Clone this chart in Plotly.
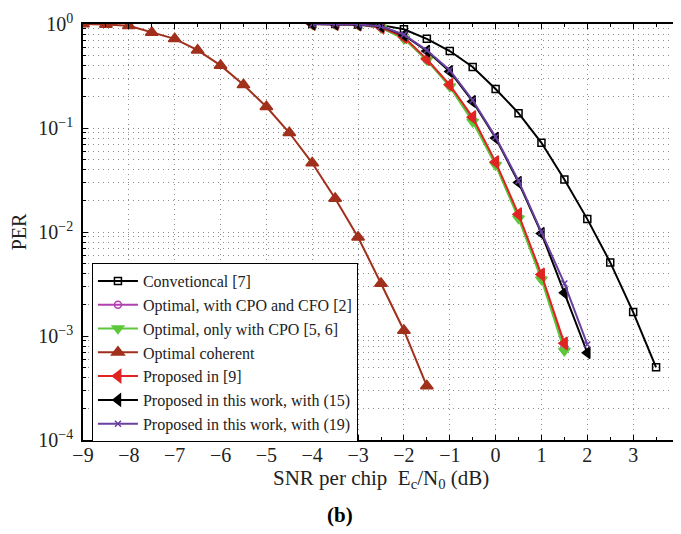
import plotly.graph_objects as go

# ---- data ----
x_conv = [-4, -3.5, -3, -2.5, -2, -1.5, -1, -0.5, 0, 0.5, 1, 1.5, 2, 2.5, 3, 3.5]
per_conv = [1.0, 1.0, 0.99, 0.975, 0.89, 0.72, 0.55, 0.386, 0.237, 0.139, 0.072, 0.032, 0.0133, 0.0051, 0.0017, 0.0005]

x_coh = [-9, -8.5, -8, -7.5, -7, -6.5, -6, -5.5, -5, -4.5, -4, -3.5, -3, -2.5, -2, -1.5]
per_coh = [1.0, 0.99, 0.96, 0.83, 0.72, 0.56, 0.40, 0.26, 0.16, 0.09, 0.046, 0.021, 0.0089, 0.0032, 0.00113, 0.00033]

x_opt = [-4, -3.5, -3, -2.5, -2, -1.5, -1, -0.5, 0, 0.5, 1, 1.5]
per_cfo = [1.0, 1.0, 0.99, 0.92, 0.73, 0.45, 0.255, 0.12, 0.045, 0.014, 0.0036, 0.00078]
per_cpo = [1.0, 1.0, 0.99, 0.92, 0.72, 0.45, 0.25, 0.115, 0.044, 0.0135, 0.0035, 0.00072]
per_p9 = [1.0, 1.0, 0.99, 0.93, 0.75, 0.46, 0.26, 0.127, 0.047, 0.0148, 0.0039, 0.00085]

x_prop = [-4, -3.5, -3, -2.5, -2, -1.5, -1, -0.5, 0, 0.5, 1, 1.5, 2]
per_15 = [1.0, 1.0, 0.99, 0.95, 0.78, 0.55, 0.35, 0.18, 0.080, 0.030, 0.0097, 0.0026, 0.00069]
per_19 = [1.0, 1.0, 0.99, 0.95, 0.79, 0.56, 0.36, 0.185, 0.082, 0.031, 0.0100, 0.0032, 0.00083]

names = ["Convetioncal [7]", "Optimal, with CPO and CFO [2]", "Optimal, only with CPO [5, 6]",
         "Optimal coherent", "Proposed in [9]", "Proposed in this work, with (15)",
         "Proposed in this work, with (19)"]

x_ticks = [-9, -8, -7, -6, -5, -4, -3, -2, -1, 0, 1, 2, 3, 4]
x_ticktext = ["−9", "−8", "−7", "−6", "−5", "−4", "−3", "−2", "−1", "0", "1", "2", "3", "4"]
y_ticks = [1, 0.1, 0.01, 0.001, 0.0001]
y_ticktext = ["10<sup>0</sup>", "10<sup>−1</sup>", "10<sup>−2</sup>", "10<sup>−3</sup>", "10<sup>−4</sup>"]
x_title = "SNR per chip  E<sub>c</sub>/N<sub>0</sub> (dB)"
y_title = "PER"
panel_label = "<b>(b)</b>"

FONT = "Liberation Serif"

series = [
    (x_conv, per_conv, names[0], "#000000", "square-open", 7),
    (x_opt, per_cfo, names[1], "#b040b0", "circle-open", 7),
    (x_opt, per_cpo, names[2], "#5cc83a", "triangle-down", 10),
    (x_coh, per_coh, names[3], "#a0301c", "triangle-up", 11),
    (x_opt, per_p9, names[4], "#e02424", "triangle-left", 11),
    (x_prop, per_15, names[5], "#000000", "triangle-left", 10),
    (x_prop, per_19, names[6], "#6a40a0", "x-thin-open", 6),
]

fig = go.Figure()
for xs, ys, nm, col, sym, sz in series:
    fig.add_trace(go.Scatter(
        x=xs, y=ys, name=nm, mode="lines+markers",
        line=dict(color=col, width=2),
        marker=dict(symbol=sym, size=sz, color=col, line=dict(color=col, width=1.5)),
    ))

GRID = "#8c8c8c"
DOT = "1px,4px"

# page body has an 8px default margin; margins compensate for it
fig.update_layout(
    width=681, height=534,
    margin=dict(l=75, r=10, t=16, b=102, autoexpand=False),
    plot_bgcolor="white", paper_bgcolor="white",
    font=dict(family=FONT, size=19, color="#222222"),
    legend=dict(
        x=0.015, y=0.4255, xanchor="left", yanchor="top",
        bgcolor="white", bordercolor="black", borderwidth=1,
        font=dict(family=FONT, size=16, color="#222222"),
        tracegroupgap=0, itemwidth=40,
    ),
    annotations=[
        dict(text=x_title, xref="paper", yref="paper", x=0.5, y=-0.094,
             xanchor="center", yanchor="middle", showarrow=False,
             font=dict(family=FONT, size=21, color="#222222")),
        dict(text=panel_label, xref="paper", yref="paper", x=0.431, y=-0.18,
             xanchor="center", yanchor="middle", showarrow=False,
             font=dict(family=FONT, size=21, color="#000000")),
    ],
)

fig.update_xaxes(
    range=[-9, 4], tickvals=x_ticks, ticktext=x_ticktext,
    ticks="inside", ticklen=5, tickcolor="black", mirror="allticks",
    showline=True, linecolor="black", linewidth=1.5,
    showgrid=True, gridcolor=GRID, griddash=DOT, gridwidth=1,
    zeroline=False, automargin=False,
    minor=dict(dtick=0.5, ticks="inside", ticklen=3, tickcolor="black", showgrid=False),
    tickfont=dict(family=FONT, size=20),
    ticklabelstandoff=-4,
)
fig.update_yaxes(
    type="log", range=[-4, 0], tickvals=y_ticks, ticktext=y_ticktext,
    ticks="inside", ticklen=5, tickcolor="black", mirror="allticks",
    showline=True, linecolor="black", linewidth=1.5,
    showgrid=True, gridcolor=GRID, griddash=DOT, gridwidth=1,
    zeroline=False, automargin=False,
    minor=dict(dtick="D1", ticks="inside", ticklen=3, tickcolor="black",
               showgrid=True, gridcolor=GRID, griddash=DOT, gridwidth=1),
    title=dict(text=y_title, standoff=8, font=dict(family=FONT, size=20)),
    tickfont=dict(family=FONT, size=20),
    ticklabelstandoff=4,
)

fig.write_html("out.html")
